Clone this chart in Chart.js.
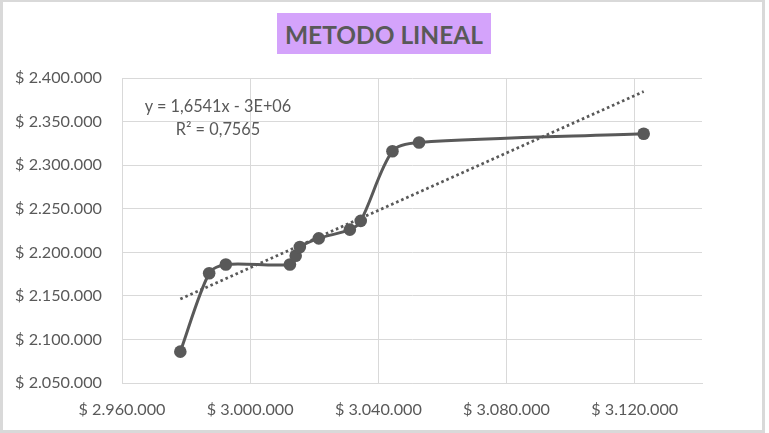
<!DOCTYPE html>
<html><head><meta charset="utf-8">
<script src="https://cdn.jsdelivr.net/npm/chart.js@4.4.1/dist/chart.umd.min.js"></script>
<style>
html,body{margin:0;padding:0;background:#fff;}
#wrap{position:relative;width:769px;height:433px;overflow:hidden;background:#fff;}
#frame{position:absolute;left:0;top:0;width:759px;height:428px;border-style:solid;border-color:#d9d9d9;border-width:2px 3px 3px 3px;}
#c{position:absolute;left:0;top:0;}
#title{position:absolute;left:277px;top:13px;width:214px;height:41px;background:#d4a3fb;color:#595959;font-weight:bold;font-family:Lato,sans-serif;display:flex;align-items:center;justify-content:center;white-space:nowrap;padding-top:2px;box-sizing:border-box;}
#eq{position:absolute;left:118px;top:94px;width:200px;text-align:center;color:#595959;font-family:Lato,sans-serif;white-space:nowrap;}
</style></head>
<body>
<div id="wrap">
  <div id="frame"></div>
  <canvas id="c" width="769" height="433"></canvas>
  <div id="title"></div>
  <div id="eq"></div>
</div>
<script>
// ---- data ----
const titleText = 'METODO LINEAL';
const xValues = [2978200, 2987200, 2992400, 3012400, 3014200, 3015500, 3021400, 3031100, 3034500, 3044400, 3052700, 3122800];
const yValues = [2086000, 2176000, 2186000, 2186000, 2196000, 2206000, 2216000, 2226000, 2236000, 2316000, 2326000, 2336000];
const xTicks = [2960000, 3000000, 3040000, 3080000, 3120000];
const yTicks = [2050000, 2100000, 2150000, 2200000, 2250000, 2300000, 2350000, 2400000];
const xRange = [2960000, 3141000];
const yRange = [2050000, 2400000];
const trendLines = ['y = 1,6541x - 3E+06', 'R\u00B2 = 0,7565'];

// ---- helpers ----
const GREY = '#595959';
const mctx = document.createElement('canvas').getContext('2d');
function fit(text, weight, target) {
  mctx.font = weight + ' 100px Lato';
  return 100 * target / mctx.measureText(text).width;
}
function money(v) {
  return '$ ' + Math.round(v).toString().replace(/\B(?=(\d{3})+(?!\d))/g, '.');
}
// least squares trendline computed from the data
const n = xValues.length;
const mx = xValues.reduce((a, b) => a + b, 0) / n;
const my = yValues.reduce((a, b) => a + b, 0) / n;
let sxy = 0, sxx = 0;
for (let i = 0; i < n; i++) { sxy += (xValues[i] - mx) * (yValues[i] - my); sxx += (xValues[i] - mx) ** 2; }
const slope = sxy / sxx, intercept = my - slope * mx;
const xMin = Math.min(...xValues), xMax = Math.max(...xValues);
const trendData = [{x: xMin, y: intercept + slope * xMin}, {x: xMax, y: intercept + slope * xMax}];

const tickSize = fit('$ 2.400.000', 'normal', 87);
const eqSize = fit(trendLines[0], 'normal', 147);
const titleSize = fit(titleText, 'bold', 198);

const t = document.getElementById('title');
t.textContent = titleText; t.style.fontSize = titleSize + 'px';
const eq = document.getElementById('eq');
eq.style.fontSize = eqSize + 'px';
eq.style.lineHeight = '23px';
eq.innerHTML = trendLines.map(s => '<div>' + s + '</div>').join('');

const points = xValues.map((x, i) => ({x, y: yValues[i]}));

new Chart(document.getElementById('c'), {
  type: 'scatter',
  data: {
    datasets: [
      {
        data: points, showLine: true, tension: 0.3,
        borderColor: GREY, backgroundColor: GREY, borderWidth: 3,
        pointRadius: 6.3, pointBackgroundColor: GREY, pointBorderColor: GREY, pointBorderWidth: 0,
        order: 1
      },
      {
        data: trendData, showLine: true, tension: 0,
        borderColor: GREY, borderWidth: 2.75, borderDash: [2.6, 2.9], borderCapStyle: 'butt',
        pointRadius: 0, order: 2
      }
    ]
  },
  options: {
    responsive: false, animation: false, devicePixelRatio: 1,
    layout: {padding: {left: 0, top: 78, right: 67, bottom: 0}},
    plugins: {legend: {display: false}, tooltip: {enabled: false}, title: {display: false}},
    scales: {
      x: {
        type: 'linear', min: xRange[0], max: xRange[1],
        afterBuildTicks: s => { s.ticks = xTicks.map(v => ({value: v})); },
        afterFit: s => { s.height = 50; },
        grid: {color: '#d9d9d9', lineWidth: 1, drawTicks: false},
        border: {color: '#d9d9d9'},
        ticks: {color: GREY, padding: 17, maxRotation: 0, autoSkip: false, font: {family: 'Lato', size: tickSize}, callback: v => money(v)}
      },
      y: {
        type: 'linear', min: yRange[0], max: yRange[1],
        afterBuildTicks: s => { s.ticks = yTicks.map(v => ({value: v})); },
        afterFit: s => { s.width = 122; },
        grid: {color: '#d9d9d9', lineWidth: 1, drawTicks: false},
        border: {color: '#d9d9d9'},
        ticks: {color: GREY, padding: 20, autoSkip: false, font: {family: 'Lato', size: tickSize}, callback: v => money(v)}
      }
    }
  }
});
</script>
</body></html>
